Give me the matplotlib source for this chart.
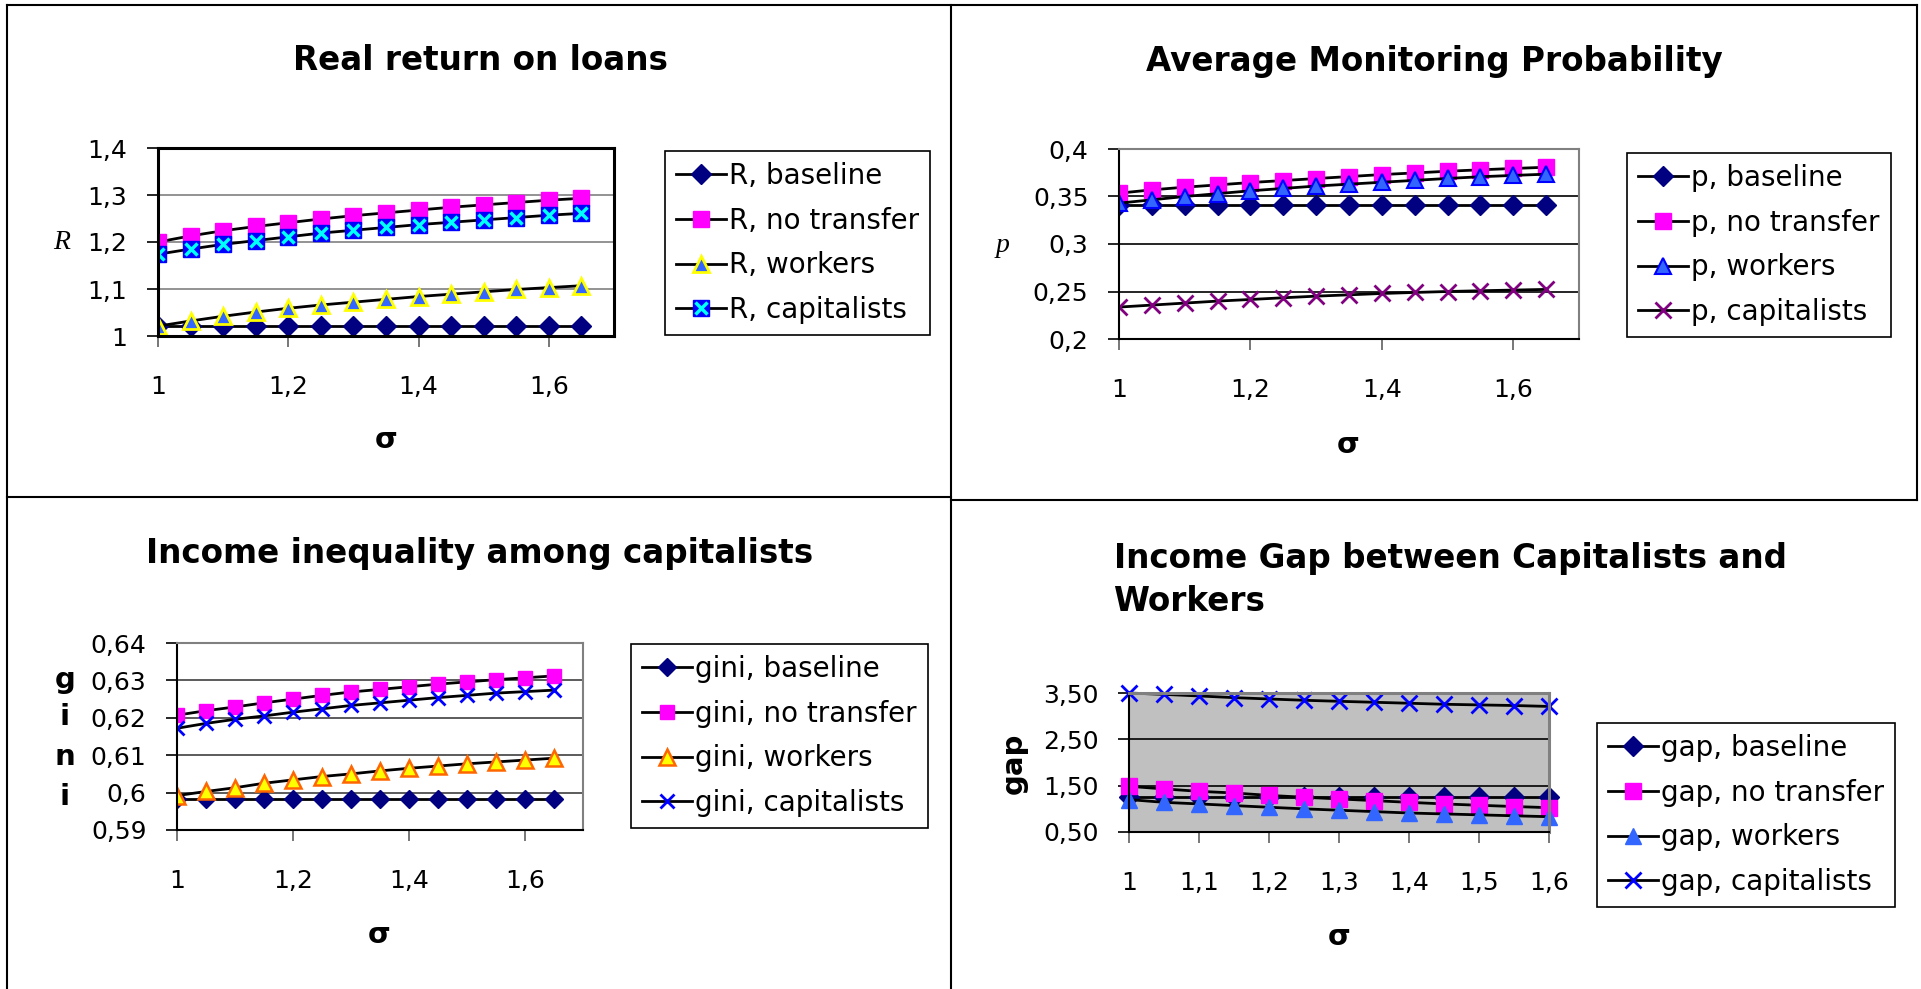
import matplotlib
matplotlib.use("Agg")
import matplotlib.pyplot as plt
from matplotlib.lines import Line2D
from matplotlib.ticker import FuncFormatter, MultipleLocator
from matplotlib.legend_handler import HandlerTuple

plt.rcParams['font.family'] = ['DejaVu Sans']

W, H = 1921, 989

# ---- data ----
sigma = [1.00, 1.05, 1.10, 1.15, 1.20, 1.25, 1.30, 1.35, 1.40, 1.45, 1.50, 1.55, 1.60, 1.65]
sigma_gap = [1.00, 1.05, 1.10, 1.15, 1.20, 1.25, 1.30, 1.35, 1.40, 1.45, 1.50, 1.55, 1.60]

R_baseline = [1.022, 1.022, 1.022, 1.022, 1.022, 1.022, 1.022, 1.022, 1.022, 1.022, 1.022, 1.022, 1.022, 1.022]
R_no_transfer = [1.200, 1.213, 1.224, 1.233, 1.241, 1.249, 1.256, 1.262, 1.268, 1.274, 1.279, 1.284, 1.289, 1.293]
R_workers = [1.021, 1.032, 1.042, 1.051, 1.059, 1.066, 1.072, 1.078, 1.084, 1.089, 1.094, 1.099, 1.103, 1.107]
R_capitalists = [1.174, 1.185, 1.195, 1.203, 1.211, 1.219, 1.225, 1.231, 1.237, 1.242, 1.247, 1.252, 1.257, 1.261]

p_baseline = [0.341, 0.341, 0.341, 0.341, 0.341, 0.341, 0.341, 0.341, 0.341, 0.341, 0.341, 0.341, 0.341, 0.341]
p_no_transfer = [0.3535, 0.3570, 0.3598, 0.3622, 0.3647, 0.3668, 0.3689, 0.3710, 0.3731, 0.3748, 0.3766, 0.3781, 0.3795, 0.3808]
p_workers = [0.3430, 0.3465, 0.3500, 0.3530, 0.3560, 0.3585, 0.3610, 0.3630, 0.3650, 0.3670, 0.3690, 0.3708, 0.3722, 0.3735]
p_capitalists = [0.2336, 0.2357, 0.2378, 0.2399, 0.2416, 0.2434, 0.2451, 0.2465, 0.2479, 0.2490, 0.2500, 0.2508, 0.2515, 0.2522]

gini_baseline = [0.5983, 0.5983, 0.5983, 0.5983, 0.5983, 0.5983, 0.5983, 0.5983, 0.5983, 0.5983, 0.5983, 0.5983, 0.5983, 0.5983]
gini_no_transfer = [0.6207, 0.6219, 0.6229, 0.6240, 0.6250, 0.6260, 0.6269, 0.6276, 0.6283, 0.6290, 0.6296, 0.6302, 0.6307, 0.6312]
gini_workers = [0.5992, 0.6003, 0.6013, 0.6025, 0.6034, 0.6043, 0.6050, 0.6058, 0.6065, 0.6071, 0.6077, 0.6082, 0.6087, 0.6092]
gini_capitalists = [0.6172, 0.6185, 0.6196, 0.6205, 0.6215, 0.6224, 0.6233, 0.6240, 0.6247, 0.6254, 0.6260, 0.6266, 0.6270, 0.6274]

gap_baseline = [1.25, 1.25, 1.25, 1.25, 1.25, 1.25, 1.25, 1.25, 1.25, 1.25, 1.25, 1.25, 1.25]
gap_no_transfer = [1.486, 1.430, 1.378, 1.342, 1.290, 1.250, 1.214, 1.177, 1.140, 1.106, 1.077, 1.050, 1.025]
gap_workers = [1.200, 1.140, 1.106, 1.070, 1.034, 1.000, 0.970, 0.940, 0.910, 0.890, 0.870, 0.850, 0.830]
gap_capitalists = [3.500, 3.470, 3.436, 3.400, 3.371, 3.343, 3.321, 3.300, 3.279, 3.257, 3.243, 3.230, 3.210]
gap_ticks = [0.5, 1.5, 2.5, 3.5]

labels_end = ["baseline", "no transfer", "workers", "capitalists"]

NAVY = "#000080"
MAGENTA = "#FF00FF"
TICK_FS = 18
LEG_FS = 20
TITLE_FS = 23.5
LAB_FS = 21

fig = plt.figure(figsize=(W / 100, H / 100), dpi=100)


def px_axes(x0, y0, x1, y1):
    return fig.add_axes([x0 / W, 1 - y1 / H, (x1 - x0) / W, (y1 - y0) / H])


def comma(fmt):
    return FuncFormatter(lambda v, pos: fmt(v).replace('.', ','))


def hline(x0, x1, y, **kw):
    fig.add_artist(Line2D([x0 / W, x1 / W], [1 - y / H, 1 - y / H], **kw))


def vline(x, y0, y1, **kw):
    fig.add_artist(Line2D([x / W, x / W], [1 - y0 / H, 1 - y1 / H], **kw))


def style_axes(ax, frame_color, grid_color, xmaj):
    ax.grid(axis='y', color=grid_color, lw=1.2)
    ax.set_axisbelow(True)
    for s in ['top', 'right']:
        ax.spines[s].set_color(frame_color)
        ax.spines[s].set_linewidth(1.5)
    for s in ['left', 'bottom']:
        ax.spines[s].set_color('black')
        ax.spines[s].set_linewidth(1.5)
    ax.xaxis.set_major_locator(MultipleLocator(xmaj))
    ax.tick_params(axis='y', direction='out', length=8, width=1.2, pad=14, labelsize=TICK_FS)
    ax.tick_params(axis='x', direction='out', length=8, width=1.2, pad=20, labelsize=TICK_FS,
                   color='#606060')
    ax.xaxis.set_major_formatter(comma(lambda v: f"{v:g}"))


def add_legend(ax, handles, names, x0, y0):
    leg = ax.legend(handles, names, loc='upper left', bbox_to_anchor=(x0 / W, 1 - y0 / H),
                    bbox_transform=fig.transFigure, fontsize=LEG_FS, frameon=True,
                    fancybox=False, edgecolor='black', framealpha=1, borderaxespad=0,
                    handlelength=1.8, handletextpad=0.1, labelspacing=0.6,
                    borderpad=0.4, handler_map={tuple: HandlerTuple(ndivide=1, pad=0)})
    leg.get_frame().set_linewidth(1.2)
    return leg


# ---- panel borders ----
bk = dict(color='black', lw=1.5)
hline(7, 1917, 5, **bk)
hline(7, 951, 497, **bk)
hline(951, 1917, 500, **bk)
vline(7, 5, 989, **bk)
vline(951, 5, 989, **bk)
vline(1917, 5, 500, **bk)

# ---- Real return on loans ----
ax = px_axes(158, 148, 614, 336)
l1, = ax.plot(sigma, R_baseline, color='black', lw=2, marker='D', ms=10, mfc=NAVY, mec=NAVY)
l2, = ax.plot(sigma, R_no_transfer, color='black', lw=2, marker='s', ms=11, mfc=MAGENTA, mec=MAGENTA)
l3, = ax.plot(sigma, R_workers, color='black', lw=2, marker='^', ms=12, mfc='#3366FF', mec='#FFFF00', mew=2)
l4a, = ax.plot(sigma, R_capitalists, color='black', lw=2, marker='s', ms=11, mfc='#0000FF', mec='#0000FF')
l4b, = ax.plot(sigma, R_capitalists, lw=0, marker='x', ms=9, mec='#00FFFF', mew=2.5)
ax.set_xlim(1, 1.7)
ax.set_ylim(1, 1.4)
ax.yaxis.set_major_locator(MultipleLocator(0.1))
style_axes(ax, 'black', '#808080', 0.2)
for s in ax.spines.values():
    s.set_color('black')
    s.set_linewidth(2.2)
ax.yaxis.set_major_formatter(comma(lambda v: f"{round(v, 2):g}"))
add_legend(ax, [l1, l2, l3, (l4a, l4b)], ["R, " + s for s in labels_end], 665, 151)
fig.text(480 / W, 1 - 61 / H, "Real return on loans", ha='center', va='center',
         fontsize=TITLE_FS, fontweight='bold')
fig.text(62 / W, 1 - 243 / H, "R", ha='center', va='center', fontsize=20,
         family='Liberation Serif', style='italic')
fig.text(386 / W, 1 - 440 / H, "σ", ha='center', va='center', fontsize=LAB_FS, fontweight='bold')

# ---- Average Monitoring Probability ----
ax = px_axes(1119, 149, 1579, 339)
l1, = ax.plot(sigma, p_baseline, color='black', lw=2, marker='D', ms=10, mfc=NAVY, mec=NAVY)
l2, = ax.plot(sigma, p_no_transfer, color='black', lw=2, marker='s', ms=11, mfc=MAGENTA, mec=MAGENTA)
l3, = ax.plot(sigma, p_workers, color='black', lw=2, marker='^', ms=12, mfc='#3366FF', mec='#0000FF', mew=1.5)
l4, = ax.plot(sigma, p_capitalists, color='black', lw=2, marker='x', ms=11, mec='#800080', mew=2)
ax.set_xlim(1, 1.7)
ax.set_ylim(0.2, 0.4)
ax.yaxis.set_major_locator(MultipleLocator(0.05))
style_axes(ax, '#808080', 'black', 0.2)
ax.yaxis.set_major_formatter(comma(lambda v: f"{round(v, 2):g}"))
add_legend(ax, [l1, l2, l3, l4], ["p, " + s for s in labels_end], 1627, 153)
fig.text(1434 / W, 1 - 61 / H, "Average Monitoring Probability", ha='center', va='center',
         fontsize=TITLE_FS, fontweight='bold')
fig.text(1003 / W, 1 - 246 / H, "p", ha='center', va='center', fontsize=20,
         family='Liberation Serif', style='italic')
fig.text(1348 / W, 1 - 445 / H, "σ", ha='center', va='center', fontsize=LAB_FS, fontweight='bold')

# ---- Income inequality among capitalists ----
ax = px_axes(177, 643, 583, 830)
l1, = ax.plot(sigma, gini_baseline, color='black', lw=2, marker='D', ms=9, mfc=NAVY, mec=NAVY)
l2, = ax.plot(sigma, gini_no_transfer, color='black', lw=2, marker='s', ms=10, mfc=MAGENTA, mec=MAGENTA)
l3, = ax.plot(sigma, gini_workers, color='black', lw=2, marker='^', ms=11, mfc='#FFFF00', mec='#FF6600', mew=1.8)
l4, = ax.plot(sigma, gini_capitalists, color='black', lw=2, marker='x', ms=10, mec='#0000FF', mew=2)
ax.set_xlim(1, 1.7)
ax.set_ylim(0.59, 0.64)
ax.yaxis.set_major_locator(MultipleLocator(0.01))
style_axes(ax, '#808080', '#404040', 0.2)
ax.yaxis.set_major_formatter(comma(lambda v: f"{round(v, 3):g}"))
add_legend(ax, [l1, l2, l3, l4], ["gini, " + s for s in labels_end], 631, 644)
fig.text(480 / W, 1 - 554 / H, "Income inequality among capitalists", ha='center', va='center',
         fontsize=TITLE_FS, fontweight='bold')
for ch, yy in zip("gini", [680, 717, 757, 797]):
    fig.text(65 / W, 1 - yy / H, ch, ha='center', va='center', fontsize=LAB_FS, fontweight='bold')
fig.text(379 / W, 1 - 935 / H, "σ", ha='center', va='center', fontsize=LAB_FS, fontweight='bold')

# ---- Income Gap between Capitalists and Workers ----
ax = px_axes(1129, 693, 1549, 832)
ax.set_facecolor('#C0C0C0')
l1, = ax.plot(sigma_gap, gap_baseline, color='black', lw=2, marker='D', ms=10, mfc=NAVY, mec=NAVY)
l2, = ax.plot(sigma_gap, gap_no_transfer, color='black', lw=2, marker='s', ms=11, mfc=MAGENTA, mec=MAGENTA)
l3, = ax.plot(sigma_gap, gap_workers, color='black', lw=2, marker='^', ms=12, mfc='#3366FF', mec='#3366FF')
l4, = ax.plot(sigma_gap, gap_capitalists, color='black', lw=2, marker='x', ms=11, mec='#0000FF', mew=2)
for ln in (l1, l2, l3, l4):
    ln.set_clip_on(False)
ax.set_xlim(1, 1.6)
ax.set_ylim(0.5, 3.5)
ax.set_yticks(gap_ticks)
style_axes(ax, '#808080', 'black', 0.1)
ax.spines['top'].set_linewidth(2.2)
ax.spines['right'].set_linewidth(2.2)
ax.yaxis.set_major_formatter(comma(lambda v: f"{v:.2f}"))
add_legend(ax, [l1, l2, l3, l4], ["gap, " + s for s in labels_end], 1597, 723)
fig.text(1450 / W, 1 - 580 / H, "Income Gap between Capitalists and\nWorkers", ha='center', va='center',
         multialignment='left', fontsize=TITLE_FS, fontweight='bold', linespacing=1.4)
fig.text(1014 / W, 1 - 763 / H, "gap", ha='center', va='center', fontsize=LAB_FS, fontweight='bold',
         rotation=90)
fig.text(1339 / W, 1 - 937 / H, "σ", ha='center', va='center', fontsize=LAB_FS, fontweight='bold')

fig.savefig("out.png", dpi=100)
